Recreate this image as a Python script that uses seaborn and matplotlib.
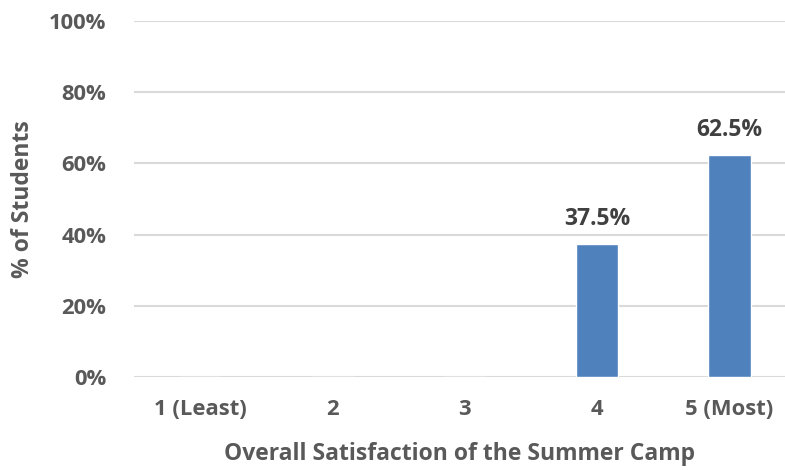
import matplotlib
matplotlib.use("Agg")
import matplotlib.pyplot as plt
import seaborn as sns
import pandas as pd

categories = ["1 (Least)", "2", "3", "4", "5 (Most)"]
percent_students = [0.0, 0.0, 0.0, 37.5, 62.5]
y_ticks = [0, 20, 40, 60, 80, 100]

sns.set_theme(style="white")
plt.rcParams["font.family"] = ["Open Sans", "DejaVu Sans"]

df = pd.DataFrame({"rating": categories, "pct": percent_students})

fig = plt.figure(figsize=(7.85, 4.7), dpi=100)
ax = fig.add_axes([134 / 785, 1 - 377 / 470, 1 - 134 / 785, (377 - 21) / 470])

sns.barplot(data=df, x="rating", y="pct", color="#4F81BD", saturation=1,
            width=0.32, ax=ax, zorder=3)

ax.set_ylim(0, 100)
ax.set_xlim(-0.5, 4.42)
ax.set_yticks(y_ticks)
ax.set_yticklabels([f"{t}%" for t in y_ticks])
ax.grid(axis="y", color="#D9D9D9", linewidth=1.5, zorder=0)
ax.set_axisbelow(True)
for s in ax.spines.values():
    s.set_visible(False)
ax.tick_params(axis="both", length=0, labelsize=15.8, labelcolor="#595959")
ax.tick_params(axis="y", pad=20)
ax.tick_params(axis="x", pad=16)
for lab in ax.get_xticklabels() + ax.get_yticklabels():
    lab.set_fontweight("bold")

ax.set_xlabel("Overall Satisfaction of the Summer Camp", fontsize=16.5,
              fontweight="bold", color="#595959", labelpad=16)
ax.set_ylabel("% of Students", fontsize=16.5, fontweight="bold",
              color="#595959", labelpad=10)

for i, v in enumerate(percent_students):
    if v > 0:
        ax.annotate(f"{v}%", (i, v), xytext=(0, 9), textcoords="offset points",
                    ha="center", va="bottom", fontsize=16.5, fontweight="bold",
                    color="#404040")

fig.savefig("out.png", dpi=100)
